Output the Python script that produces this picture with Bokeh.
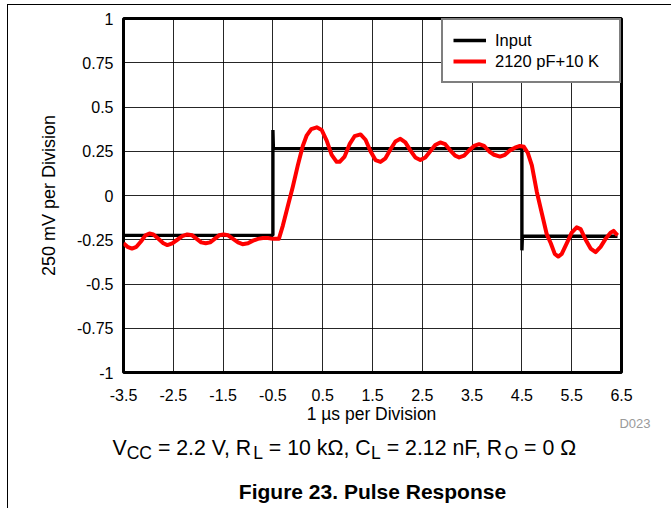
from bokeh.plotting import figure
from bokeh.layouts import column
from bokeh.models import Range1d, FixedTicker, Label, CustomJSTickFormatter
from bokeh.embed import file_html
from bokeh.resources import INLINE

# ---------------- data ----------------
x_ticks = [-3.5, -2.5, -1.5, -0.5, 0.5, 1.5, 2.5, 3.5, 4.5, 5.5, 6.5]
x_tick_labels = ["-3.5", "-2.5", "-1.5", "-0.5", "0.5", "1.5", "2.5", "3.5", "4.5", "5.5", "6.5"]
y_ticks = [-1, -0.75, -0.5, -0.25, 0, 0.25, 0.5, 0.75, 1]
y_tick_labels = ["-1", "-0.75", "-0.5", "-0.25", "0", "0.25", "0.5", "0.75", "1"]

input_t = [-3.5, -0.5, -0.5, -0.49, 4.5, 4.5, 4.51, 6.42]
input_v = [-0.225, -0.225, 0.37, 0.265, 0.265, -0.31, -0.23, -0.23]

out_t = [-3.5, -3.42, -3.33, -3.24, -3.15, -3.06, -2.98, -2.90, -2.80, -2.70,
         -2.62, -2.52, -2.42, -2.32, -2.22, -2.12, -2.03, -1.94, -1.85, -1.76,
         -1.67, -1.58, -1.49, -1.40, -1.30, -1.20, -1.11, -1.00, -0.90, -0.80,
         -0.70, -0.60, -0.50, -0.38, -0.30, -0.20, -0.10, 0.00, 0.10, 0.18,
         0.27, 0.38, 0.48, 0.58, 0.68, 0.78, 0.84, 0.94, 1.04, 1.14,
         1.26, 1.36, 1.46, 1.56, 1.66, 1.76, 1.86, 1.96, 2.06, 2.16,
         2.26, 2.36, 2.46, 2.56, 2.66, 2.76, 2.86, 2.96, 3.06, 3.16,
         3.24, 3.34, 3.44, 3.54, 3.64, 3.74, 3.84, 3.94, 4.06, 4.16,
         4.26, 4.36, 4.46, 4.54, 4.62, 4.70, 4.80, 4.90, 5.00, 5.08,
         5.16, 5.23, 5.30, 5.40, 5.50, 5.60, 5.68, 5.78, 5.88, 5.98,
         6.08, 6.18, 6.28, 6.34, 6.42]
out_v = [-0.27, -0.29, -0.30, -0.29, -0.26, -0.225, -0.215, -0.22, -0.245, -0.27,
         -0.28, -0.27, -0.25, -0.23, -0.22, -0.225, -0.245, -0.265, -0.27, -0.265,
         -0.245, -0.225, -0.22, -0.225, -0.245, -0.265, -0.275, -0.27, -0.255, -0.245,
         -0.24, -0.24, -0.245, -0.245, -0.17, -0.06, 0.05, 0.17, 0.28, 0.34,
         0.375, 0.385, 0.37, 0.31, 0.23, 0.19, 0.19, 0.22, 0.29, 0.335,
         0.345, 0.315, 0.25, 0.20, 0.19, 0.21, 0.26, 0.305, 0.32, 0.30,
         0.255, 0.215, 0.20, 0.215, 0.25, 0.285, 0.30, 0.29, 0.255, 0.225,
         0.215, 0.225, 0.255, 0.28, 0.29, 0.28, 0.25, 0.23, 0.22, 0.23,
         0.255, 0.27, 0.28, 0.275, 0.24, 0.17, 0.02, -0.10, -0.22, -0.27,
         -0.33, -0.345, -0.33, -0.27, -0.21, -0.18, -0.19, -0.25, -0.30, -0.32,
         -0.29, -0.245, -0.21, -0.20, -0.225]

series_names = ["Input", "2120 pF+10 K"]
series_colors = ["black", "#ff0000"]

x_label_text = "1 \u00b5s per Division"
y_label_text = "250 mV per Division"
figure_title = "Figure 23. Pulse Response"
note_text = "D023"

# ---------------- chart figure ----------------
FONT = "Liberation Sans"
FL, FT, FW, FH = 115, 13, 498, 354      # frame placement inside the canvas
W = 663
H1 = 408                                 # chart canvas height
OVER = 20                                # caption canvas overlaps the chart by this
H2 = 503 - H1 + OVER                     # caption canvas height

p1 = figure(frame_width=FW, frame_height=FH,
            min_border_left=FL, min_border_right=W - FL - FW,
            min_border_top=FT, min_border_bottom=H1 - FT - FH,
            x_range=Range1d(-3.5, 6.5), y_range=Range1d(-1, 1),
            output_backend="svg", toolbar_location=None)
p1.frame_align = False

p1.background_fill_color = "white"
p1.border_fill_color = "white"
p1.outline_line_color = "black"
p1.outline_line_width = 3

fmt = CustomJSTickFormatter(code="return String(tick);")
p1.xaxis.ticker = FixedTicker(ticks=x_ticks)
p1.yaxis.ticker = FixedTicker(ticks=y_ticks)
p1.xaxis.formatter = fmt
p1.yaxis.formatter = fmt
p1.xaxis.major_label_overrides = {float(t): l for t, l in zip(x_ticks, x_tick_labels)}
p1.yaxis.major_label_overrides = {float(t): l for t, l in zip(y_ticks, y_tick_labels)}

for ax in (p1.xaxis, p1.yaxis):
    ax.axis_line_color = None
    ax.major_tick_line_color = None
    ax.minor_tick_line_color = None
    ax.major_tick_in = 0
    ax.major_tick_out = 0
    ax.major_label_text_font = FONT
    ax.major_label_text_font_size = "16px"
    ax.major_label_text_color = "black"
    ax.axis_label_text_font = FONT
    ax.axis_label_text_font_style = "normal"
    ax.axis_label_text_color = "black"

p1.xaxis.major_label_standoff = 16
p1.yaxis.major_label_standoff = 10
p1.yaxis.axis_label = y_label_text
p1.yaxis.axis_label_text_font_size = "18px"
p1.yaxis.axis_label_standoff = 15

p1.xgrid.grid_line_color = "black"
p1.ygrid.grid_line_color = "black"
p1.xgrid.grid_line_width = 1
p1.ygrid.grid_line_width = 1
p1.xgrid.grid_line_alpha = 0.85
p1.ygrid.grid_line_alpha = 0.85

p1.line(input_t, input_v, line_color=series_colors[0], line_width=3.4,
        legend_label=series_names[0])
p1.line(out_t, out_v, line_color=series_colors[1], line_width=4,
        line_join="round", legend_label=series_names[1])

lg = p1.legend[0]
lg.location = "top_right"
lg.margin = 0
lg.padding = 10
lg.spacing = 1
lg.label_height = 20
lg.glyph_height = 20
lg.glyph_width = 33
lg.label_standoff = 9
lg.label_width = 114
lg.border_line_color = "black"
lg.border_line_width = 2
lg.background_fill_color = "white"
lg.background_fill_alpha = 1
lg.label_text_font = FONT
lg.label_text_font_size = "16.5px"
lg.label_text_color = "black"

# ---------------- caption figure (pixel coordinates, y downwards) ----------------
p2 = figure(frame_width=W, frame_height=H2,
            min_border_left=0, min_border_right=0, min_border_top=0, min_border_bottom=0,
            x_range=Range1d(0, W), y_range=Range1d(H2, 0),
            x_axis_type=None, y_axis_type=None,
            output_backend="svg", toolbar_location=None,
            styles={"margin-top": f"-{OVER}px"})
p2.frame_align = False
p2.outline_line_color = None
p2.background_fill_alpha = 0
p2.border_fill_alpha = 0
p2.xgrid.visible = False
p2.ygrid.visible = False

# caption y positions, measured from the caption canvas top (observed offset ~7 px)
TOP2 = 5 + H1 - OVER + 7


def cy(page_y):
    return page_y - TOP2


p2.add_layout(Label(x=363, y=cy(420), text=x_label_text, text_font=FONT,
                    text_font_size="17.5px", text_color="black",
                    text_align="center", text_baseline="alphabetic"))
p2.add_layout(Label(x=642, y=cy(430), text=note_text, text_font=FONT,
                    text_font_size="13px", text_color="#9a9a9a",
                    text_align="right", text_baseline="alphabetic"))

NB = "\u00a0"
ADV = {" ": 278, NB: 278, "=": 584, ".": 278, ",": 278, "0": 556, "1": 556,
       "2": 556, "V": 667, "R": 722, "C": 722, "L": 556, "O": 778, "k": 500,
       "n": 556, "F": 611, "\u03a9": 768}
MAIN, SUB = 21.3, 17.5
segments = [("V", False), ("CC", True), (NB + "= 2.2 V, R", False), ("L", True),
            (NB + "= 10 k\u03a9, C", False), ("L", True), (NB + "= 2.12 nF, R", False),
            ("O", True), (NB + "= 0 \u03a9", False)]
cx = 104
for txt, sub in segments:
    size = SUB if sub else MAIN
    p2.add_layout(Label(x=cx, y=cy(454 + (5 if sub else 0)), text=txt, text_font=FONT,
                        text_font_size=f"{size}px", text_color="black",
                        text_align="left", text_baseline="alphabetic"))
    cx += sum(ADV.get(c, 556) for c in txt) * size / 1000.0

p2.add_layout(Label(x=364, y=cy(498), text=figure_title, text_font=FONT,
                    text_font_size="21px", text_font_style="bold",
                    text_color="black", text_align="center",
                    text_baseline="alphabetic"))

p = column(p1, p2, spacing=0,
           styles={"margin-left": "7px", "margin-top": "4px",
                   "border-left": "1px solid black",
                   "border-top": "1px solid black"})

open("out.html", "w").write(file_html(p, INLINE))
